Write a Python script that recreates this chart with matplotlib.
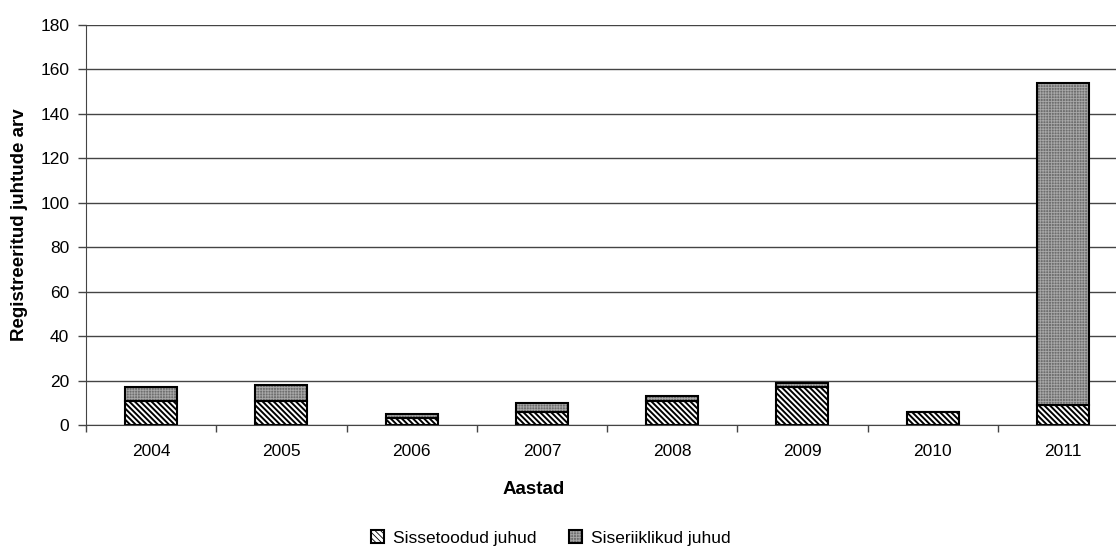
import matplotlib.pyplot as plt
import numpy as np

plt.rcParams['font.family'] = ['Liberation Sans', 'DejaVu Sans']

years = ['2004', '2005', '2006', '2007', '2008', '2009', '2010', '2011']
sissetoodud = [11, 11, 3, 6, 11, 17, 6, 9]
siseriiklikud = [6, 7, 2, 4, 2, 2, 0, 145]
yticks = np.arange(0, 181, 20)

fig = plt.figure(figsize=(11.16, 5.48), dpi=100)
# plot area runs a bit past the right edge of the figure
ax = fig.add_axes([86 / 1116, 123 / 548, 1042 / 1116, 400 / 548])

x = np.arange(len(years))
w = 0.4

plt.rcParams['hatch.linewidth'] = 1.4
b1 = ax.bar(x, sissetoodud, w, color='white', edgecolor='black',
            hatch='\\' * 6, linewidth=1.5, label='Sissetoodud juhud', zorder=3)

# dotted grey fill first, black outline drawn on top of it
plt.rcParams['hatch.linewidth'] = 0.6
b2f = ax.bar(x, siseriiklikud, w, bottom=sissetoodud, color='#6e6e6e',
             edgecolor='#a8a8a8', hatch='+' * 6, linewidth=0, zorder=3)
b2o = ax.bar(x, siseriiklikud, w, bottom=sissetoodud, fill=False,
             edgecolor='black', linewidth=1.5, zorder=4)

ax.set_xlim(-0.5, len(years) - 0.5)
ax.set_ylim(0, 180)
ax.set_yticks(yticks)
ax.set_xticks(x)
ax.set_xticklabels(years, fontsize=12.5)
ax.set_xticks(np.arange(-0.5, len(years), 1), minor=True)
ax.tick_params(axis='x', which='major', length=0, pad=14)
ax.tick_params(axis='x', which='minor', length=5, direction='out', width=1,
               color='#444444')
ax.tick_params(axis='y', length=6, direction='out', labelsize=12.5, width=1,
               color='#444444', pad=6)

ax.grid(axis='y', color='#444444', linewidth=1, zorder=0)
for s in ['top', 'right']:
    ax.spines[s].set_visible(False)
ax.spines['left'].set_color('#444444')
ax.spines['bottom'].set_color('#444444')
ax.spines['bottom'].set_zorder(5)

ax.set_xlabel('Aastad', fontsize=13.5, fontweight='bold')
ax.xaxis.set_label_coords((534 - 86) / 1042, -(481 - 425) / 400)
ax.set_ylabel('Registreeritud juhtude arv', fontsize=13.5, fontweight='bold')
ax.yaxis.set_label_coords(-(86 - 28) / 1042, 0.5)

fig.legend(handles=[b1, (b2f, b2o)],
           labels=['Sissetoodud juhud', 'Siseriiklikud juhud'],
           loc='center', bbox_to_anchor=(551 / 1116, 1 - 538 / 548),
           ncol=2, frameon=False, fontsize=12.5, handlelength=0.75,
           handleheight=0.75, columnspacing=1.9, handletextpad=0.5)

fig.savefig('out.png', dpi=100)
